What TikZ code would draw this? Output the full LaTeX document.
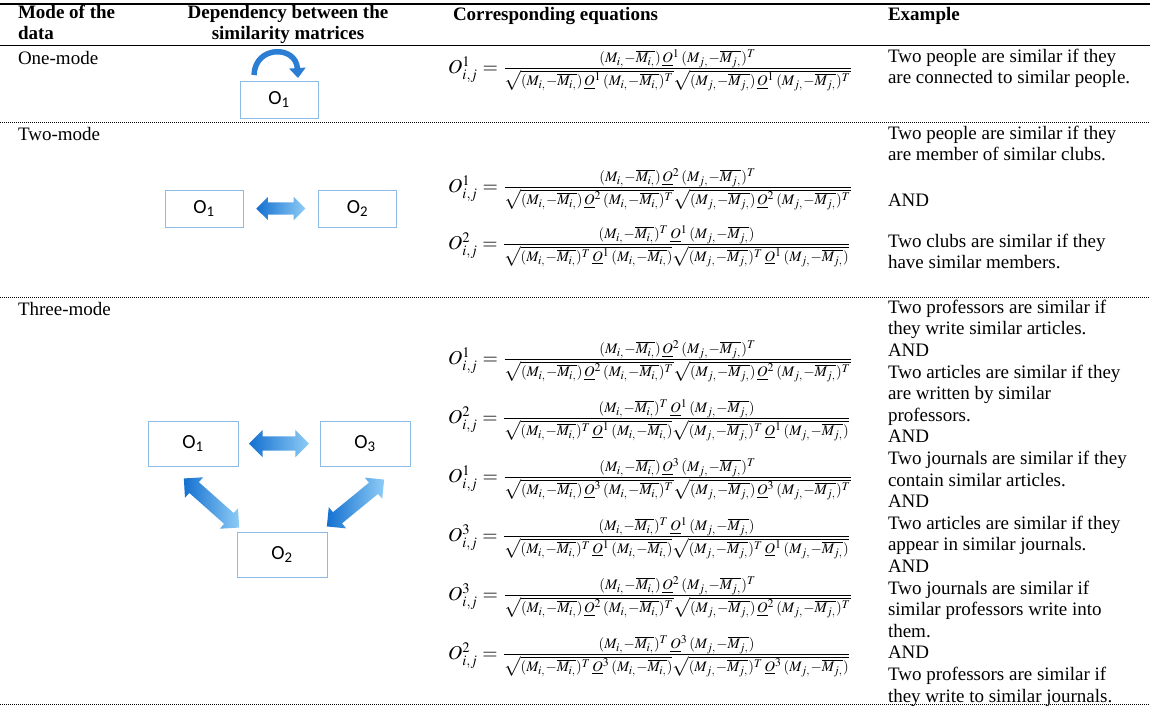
\documentclass[tikz,border=0pt]{standalone}
\usepackage{graphicx}
\usepackage{mathptmx}
\usepackage[no-math]{fontspec}
\setmainfont{Liberation Serif}
\newfontfamily\boxfont{Carlito}
\usetikzlibrary{shapes.arrows,arrows.meta,calc}
\definecolor{boxblue}{HTML}{8DBBE3}
\definecolor{arrdark}{HTML}{1470D0}
\definecolor{arrlight}{HTML}{8ECCF6}
\newcommand\eqRow[2]{\resizebox{405pt}{!}{$O^{#1}_{i,j}=\frac{(M_{i,}-\overline{M_{i,}})\,\underline{O}^{#2}\,(M_{j,}-\overline{M_{j,}})^T}{\sqrt{(M_{i,}-\overline{M_{i,}})\,\underline{O}^{#2}\,(M_{i,}-\overline{M_{i,}})^T}\sqrt{(M_{j,}-\overline{M_{j,}})\,\underline{O}^{#2}\,(M_{j,}-\overline{M_{j,}})^T}}$}}
\newcommand\eqCol[2]{\resizebox{403pt}{!}{$O^{#1}_{i,j}=\frac{(M_{i,}-\overline{M_{i,}})^T\,\underline{O}^{#2}\,(M_{j,}-\overline{M_{j,}})}{\sqrt{(M_{i,}-\overline{M_{i,}})^T\,\underline{O}^{#2}\,(M_{i,}-\overline{M_{i,}})}\sqrt{(M_{j,}-\overline{M_{j,}})^T\,\underline{O}^{#2}\,(M_{j,}-\overline{M_{j,}})}}$}}
\begin{document}
\begin{tikzpicture}[x=1pt,y=-1pt,
  txt/.style={anchor=north west, inner sep=0pt, outer sep=0pt, align=left,
    font=\fontsize{19}{21.6}\selectfont, execute at begin node=\strut},
  hd/.style={txt, font=\fontsize{19}{21.6}\selectfont\bfseries},
  eqn/.style={anchor=west, inner sep=0pt},
  obox/.style={draw=boxblue, line width=0.9pt, fill=white, inner sep=0pt,
    font=\boxfont\fontsize{20}{22}\selectfont},
  small/.style={obox, minimum width=78pt, minimum height=37pt},
  big/.style={obox, minimum width=90pt, minimum height=45pt},
  darr/.style={double arrow, inner xsep=0pt, outer sep=0pt, double arrow head indent=0pt,
    left color=arrdark, right color=arrlight, draw=none},
  arrA/.style={darr, inner ysep=6pt, double arrow head extend=5.5pt},
  arrB/.style={darr, inner ysep=7pt, double arrow head extend=6.5pt},
  rule/.style={line width=1.5pt},
  dots/.style={line width=1pt, dash pattern=on 1pt off 1pt}
]
\useasboundingbox (0,0) rectangle (1150,707);
\fill[white] (0,0) rectangle (1150,707);

% rules
\draw[rule] (0,4) -- (1150,4);
\draw[line width=1.2pt] (0,45.5) -- (1150,45.5);
\draw[dots] (0,122) -- (1150,122);
\draw[dots] (0,297) -- (1150,297);
\draw[dots] (0,704) -- (1150,704);

% header
\node[hd] (hmode) at (18,5) {Mode of the\\data};
\node[hd, anchor=north, align=center] (hdep) at (288,5) {Dependency between the\\similarity matrices};
\node[hd] (heq) at (453,5) {Corresponding equations};
\node[hd] (hex) at (888,5) {Example};

% row 1
\node[txt] (m1) at (18,49) {One-mode};
\node[small] (one1) at (279,100) {O\textsubscript{1}};
\draw[arrdark!90, line width=5.5pt, -{Triangle[width=16pt,length=10pt]}]
  ($(one1.north)+(-25,-6)$) .. controls ($(one1.north)+(-24,-36)$) and ($(one1.north)+(17,-36)$) .. ($(one1.north)+(19,-3)$);
\node[eqn] (e1) at (448,70) {\eqRow{1}{1}};
\node[txt] (x1) at (888,49) {Two people are similar if they\\are connected to similar people.};

% row 2
\node[txt] (m2) at (18,125) {Two-mode};
\node[small] (two1) at (204,208.5) {O\textsubscript{1}};
\node[small] (two2) at (357.5,208.5) {O\textsubscript{2}};
\node[arrA, minimum height=49pt] (a12) at ($(two1.east)!0.5!(two2.west)$) {};
\node[eqn] (e21) at (448,189) {\eqRow{1}{2}};
\node[eqn] (e22) at (448,246) {\eqCol{2}{1}};
\node[txt] (x2a) at (888,126) {Two people are similar if they\\are member of similar clubs.};
\node[txt] (x2b) at (888,191) {AND};
\node[txt] (x2c) at (888,234) {Two clubs are similar if they\\have similar members.};

% row 3
\node[txt] (m3) at (18,300) {Three-mode};
\node[big] (th1) at (193,443.5) {O\textsubscript{1}};
\node[big] (th3) at (365,443.5) {O\textsubscript{3}};
\node[big] (th2) at (282,554.5) {O\textsubscript{2}};
\node[arrB, minimum height=60pt] (b13) at ($(th1.east)!0.5!(th3.west)$) {};
\node[arrB, minimum height=74pt, rotate=-41.6] (b12) at (211.5,503) {};
\node[arrB, minimum height=74pt, rotate=219.3] (b32) at (355.5,503) {};
\node[eqn] (e31) at (448,361) {\eqRow{1}{2}};
\node[eqn] (e32) at (448,420) {\eqCol{2}{1}};
\node[eqn] (e33) at (448,479) {\eqRow{1}{3}};
\node[eqn] (e34) at (448,538) {\eqCol{3}{1}};
\node[eqn] (e35) at (448,597) {\eqRow{3}{2}};
\node[eqn] (e36) at (448,656) {\eqCol{2}{3}};
\node[txt] (x3) at (888,300) {Two professors are similar if\\they write similar articles.\\AND\\Two articles are similar if they\\are written by similar\\professors.\\AND\\Two journals are similar if they\\contain similar articles.\\AND\\Two articles are similar if they\\appear in similar journals.\\AND\\Two journals are similar if\\similar professors write into\\them.\\AND\\Two professors are similar if\\they write to similar journals.};
\end{tikzpicture}
\end{document}
